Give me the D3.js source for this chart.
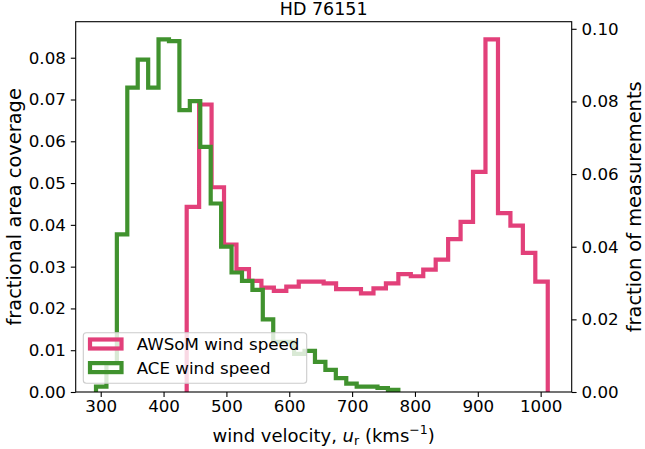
<!DOCTYPE html>
<html>
<head>
<meta charset="utf-8">
<script src="https://cdn.jsdelivr.net/npm/d3@7"></script>
<style>
  body { margin: 0; background: white; }
  text { font-family: "DejaVu Sans", sans-serif; }
</style>
</head>
<body>
<svg id="chart" width="645" height="449"></svg>
<script>
//AWSoM histogram (left axis)
var awsomEdges = [436.8, 456.6, 476.4, 496.2, 516.0, 535.9, 555.7, 575.5, 595.3, 615.1,
                  634.9, 654.7, 674.5, 694.3, 714.1, 734.0, 753.8, 773.6, 793.4, 813.2,
                  833.0, 852.8, 872.6, 892.4, 912.2, 932.1, 951.9, 971.7, 991.5, 1011.3];
var awsomValues = [0.0443, 0.0688, 0.0490, 0.0353, 0.0294, 0.0266, 0.0250, 0.0242, 0.0252, 0.0264,
                   0.0264, 0.0260, 0.0246, 0.0246, 0.0236, 0.0248, 0.0260, 0.0282, 0.0277, 0.0293,
                   0.0317, 0.0366, 0.0407, 0.0527, 0.0844, 0.0428, 0.0398, 0.0333, 0.0264];

//ACE histogram (right axis)
var aceEdges = [292.5, 309.1, 325.7, 342.3, 358.9, 375.5, 392.0, 408.6, 425.2, 441.8,
                458.4, 475.0, 491.6, 508.2, 524.8, 541.4, 557.9, 574.5, 591.1, 607.7,
                624.3, 640.9, 657.5, 674.1, 690.7, 707.3, 723.8, 740.4, 757.0, 773.6];
var aceValues = [0.0015, 0.0079, 0.0434, 0.0838, 0.0915, 0.0838, 0.0971, 0.0966, 0.0776, 0.0801,
                 0.0675, 0.0519, 0.0400, 0.0329, 0.0306, 0.0281, 0.0200, 0.0138, 0.0138, 0.0105,
                 0.0113, 0.0083, 0.0061, 0.0038, 0.0023, 0.0015, 0.0015, 0.0011, 0.0006];

//Ticks
var xTicks = [300, 400, 500, 600, 700, 800, 900, 1000];
var leftTicks = [0, 0.01, 0.02, 0.03, 0.04, 0.05, 0.06, 0.07, 0.08];
var rightTicks = [0, 0.02, 0.04, 0.06, 0.08, 0.10];

var pink = "#e2407a";
var green = "#40922e";

//Graph dimensions
var dimensions = {
    width: 645,
    height: 449,
    margin: {
        top: 21.7,
        bottom: 57,
        right: 73.3,
        left: 75.7
    }
};
var x0 = dimensions.margin.left,
    x1 = dimensions.width - dimensions.margin.right,
    y0 = dimensions.height - dimensions.margin.bottom,
    y1 = dimensions.margin.top;

var svg = d3.select("#chart");

//Scales
var xScale = d3.scaleLinear().domain([260.2, 1049.4]).range([x0, x1]);
var yLeft = d3.scaleLinear()
              .domain([0, d3.max(awsomValues) * 1.05])
              .range([y0, y1]);
var yRight = d3.scaleLinear()
               .domain([0, d3.max(aceValues) * 1.05])
               .range([y0, y1]);

//Step outline like histtype='step'
function stepPoints(edges, values) {
    var pts = [[edges[0], 0]];
    values.forEach(function(v, i){
        pts.push([edges[i], v]);
        pts.push([edges[i + 1], v]);
    });
    pts.push([edges[edges.length - 1], 0]);
    return pts;
}

function drawStep(edges, values, yScale, color) {
    var line = d3.line()
                 .x(function(d){ return xScale(d[0]); })
                 .y(function(d){ return yScale(d[1]); });
    svg.append("path")
       .attr("d", line(stepPoints(edges, values)))
       .attr("fill", "none")
       .attr("stroke", color)
       .attr("stroke-width", 4.2)
       .attr("stroke-linejoin", "miter");
}

drawStep(awsomEdges, awsomValues, yLeft, pink);
drawStep(aceEdges, aceValues, yRight, green);

//Frame
svg.append("rect")
   .attr("x", x0).attr("y", y1)
   .attr("width", x1 - x0).attr("height", y0 - y1)
   .attr("fill", "none")
   .attr("stroke", "black")
   .attr("stroke-width", 1.1);

//X-axis
var xAxis = svg.append("g")
               .attr("transform", "translate(0," + y0 + ")")
               .call(d3.axisBottom(xScale).tickValues(xTicks).tickFormat(d3.format("d"))
                       .tickSize(4.9).tickPadding(3.5).tickSizeOuter(0));

//Left axis
var leftAxis = svg.append("g")
                  .attr("transform", "translate(" + x0 + ",0)")
                  .call(d3.axisLeft(yLeft).tickValues(leftTicks).tickFormat(d3.format(".2f"))
                          .tickSize(4.9).tickPadding(4.9).tickSizeOuter(0));

//Right axis
var rightAxis = svg.append("g")
                   .attr("transform", "translate(" + x1 + ",0)")
                   .call(d3.axisRight(yRight).tickValues(rightTicks).tickFormat(d3.format(".2f"))
                           .tickSize(4.9).tickPadding(4.9).tickSizeOuter(0));

[xAxis, leftAxis, rightAxis].forEach(function(a){
    a.select(".domain").remove();
    a.selectAll("line").attr("stroke", "black").attr("stroke-width", 1.1);
    a.selectAll("text")
     .style("font-family", "DejaVu Sans")
     .style("font-size", "16.7px")
     .attr("fill", "black");
});

//Title
svg.append("text")
   .attr("x", (x0 + x1) / 2)
   .attr("y", 15)
   .attr("text-anchor", "middle")
   .style("font-size", "17.5px")
   .text("HD 76151");

//X-axis title
var xTitle = svg.append("text")
                .attr("x", (x0 + x1) / 2)
                .attr("y", 441.5)
                .attr("text-anchor", "middle")
                .style("font-size", "18px");
xTitle.append("tspan").text("wind velocity, ");
xTitle.append("tspan").style("font-style", "italic").text("u");
xTitle.append("tspan").attr("dy", 3.8).style("font-size", "12.6px").text("r");
xTitle.append("tspan").attr("dy", -3.8).text(" (kms");
xTitle.append("tspan").attr("dy", -7.5).style("font-size", "12.6px").text("\u22121");
xTitle.append("tspan").attr("dy", 7.5).text(")");

//Y-axis titles
svg.append("text")
   .attr("transform", "rotate(-90)")
   .attr("x", -(y0 + y1) / 2)
   .attr("y", 21)
   .attr("text-anchor", "middle")
   .style("font-size", "19.4px")
   .text("fractional area coverage");

svg.append("text")
   .attr("transform", "translate(640.5," + ((y0 + y1) / 2) + ") rotate(-90)")
   .attr("text-anchor", "middle")
   .style("font-size", "19.4px")
   .text("fraction of measurements");

//Legend
var legend = svg.append("g");
legend.append("rect")
      .attr("x", 83.3).attr("y", 332.7)
      .attr("width", 223.4).attr("height", 50.6)
      .attr("rx", 3)
      .attr("fill", "white").attr("fill-opacity", 0.8)
      .attr("stroke", "#cccccc").attr("stroke-width", 1.1);

var legendItems = [
    { label: "AWSoM wind speed", color: pink, y: 344 },
    { label: "ACE wind speed", color: green, y: 367.6 }
];
legendItems.forEach(function(item){
    legend.append("rect")
          .attr("x", 90).attr("y", item.y - 4.5)
          .attr("width", 31.5).attr("height", 9)
          .attr("fill", "none")
          .attr("stroke", item.color)
          .attr("stroke-width", 4.2);
    legend.append("text")
          .attr("x", 136.7).attr("y", item.y + 6.3)
          .style("font-size", "16.7px")
          .text(item.label);
});
</script>
</body>
</html>
